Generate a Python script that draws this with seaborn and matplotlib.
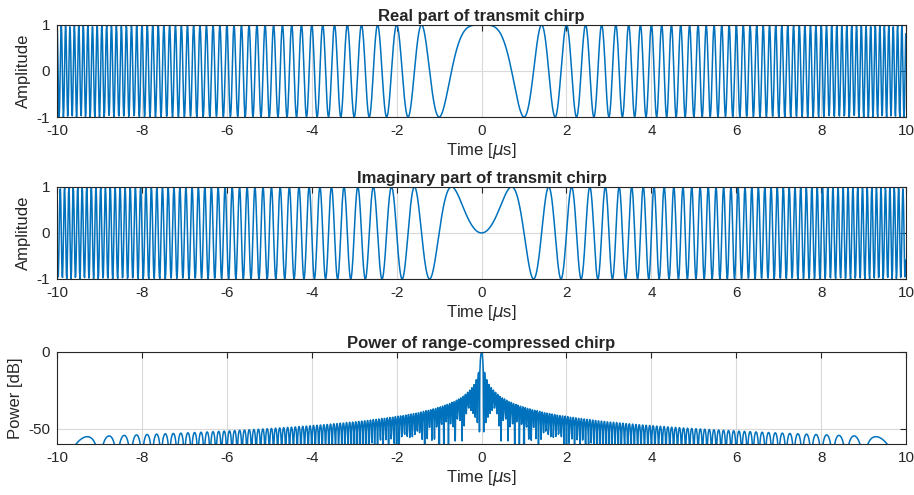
import numpy as np
import pandas as pd
import matplotlib
matplotlib.use("Agg")
import matplotlib.pyplot as plt
import seaborn as sns

# chirp parameters (time in microseconds)
pulse_len_us = 20.0      # signal spans -10 .. 10 us
chirp_rate = 1.0         # MHz/us (first null of real part at t = 1 us)
sample_rate = 100.0      # MHz
x_ticks = [-10, -8, -6, -4, -2, 0, 2, 4, 6, 8, 10]
amp_ticks = [-1, 0, 1]
pow_ticks = [-50, 0]
titles = ["Real part of transmit chirp",
          "Imaginary part of transmit chirp",
          "Power of range-compressed chirp"]
ylabels = ["Amplitude", "Amplitude", "Power [dB]"]

t = -pulse_len_us / 2 + np.arange(int(pulse_len_us * sample_rate)) / sample_rate
chirp = np.exp(1j * np.pi * chirp_rate * t**2)

# matched filter (linear correlation, zero padded fft)
n = len(chirp)
nfft = 2 * n
spec = np.fft.fft(chirp, nfft)
comp = np.fft.ifft(spec * np.conj(spec))
comp = np.concatenate([comp[-(n // 2):], comp[:n - n // 2]])
power = 20 * np.log10(np.maximum(np.abs(comp) / np.abs(comp).max(), 1e-12))

df = pd.DataFrame({"t": t, "re": chirp.real, "im": chirp.imag, "pw": power})

sns.set_style("white")
plt.rcParams["font.family"] = ["Liberation Sans", "DejaVu Sans"]
plt.rcParams["mathtext.fontset"] = "dejavusans"
plt.rcParams["axes.unicode_minus"] = False

blue = "#0072BD"
fig = plt.figure(figsize=(9.14, 4.95), dpi=100)
boxes = [[0.0624, 0.7636, 0.929, 0.186],
         [0.0624, 0.4364, 0.929, 0.186],
         [0.0624, 0.1030, 0.929, 0.186]]
cols = ["re", "im", "pw"]

for i in range(3):
    ax = fig.add_axes(boxes[i])
    sns.lineplot(data=df, x="t", y=cols[i], ax=ax, color=blue, linewidth=1.1,
                 estimator=None, sort=False, errorbar=None)
    ax.set_xlim(-10, 10)
    ax.set_xticks(x_ticks)
    if i < 2:
        ax.set_ylim(-1, 1)
        ax.set_yticks(amp_ticks)
    else:
        ax.set_ylim(-60, 0)
        ax.set_yticks(pow_ticks)
    ax.grid(True, color="#d9d9d9", linewidth=0.8)
    ax.set_axisbelow(True)
    for sp in ax.spines.values():
        sp.set_color("#262626")
        sp.set_linewidth(0.8)
        sp.set_visible(True)
    ax.tick_params(direction="in", length=4, width=0.8, colors="#262626",
                   labelsize=11, top=True, right=True, pad=5)
    ax.set_xlabel(r"Time [$\mu$s]", fontsize=12, color="#262626", labelpad=2)
    ax.set_ylabel(ylabels[i], fontsize=12, color="#262626", labelpad=4)
    ax.set_title(titles[i], fontsize=12, fontweight="bold", pad=3)

fig.savefig("out.png", dpi=100)
